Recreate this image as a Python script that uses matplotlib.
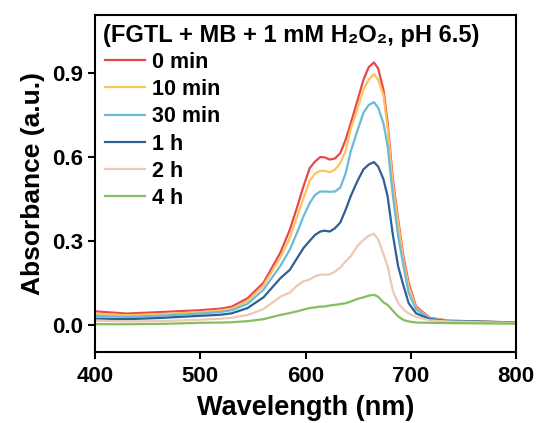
import matplotlib
matplotlib.use('Agg')
import matplotlib.pyplot as plt

# wavelength grid (nm)
wavelength = [400, 430, 460, 500, 520, 530, 545, 560, 576, 585,
              592, 598, 604, 609, 614, 618, 623, 628, 633, 638,
              643, 649, 655, 660, 665, 669, 674, 678, 683, 688,
              693, 698, 705, 718, 735, 765, 800]

abs_0min = [0.048, 0.040, 0.045, 0.052, 0.058, 0.065, 0.095, 0.150, 0.257, 0.339,
            0.420, 0.494, 0.560, 0.583, 0.599, 0.598, 0.590, 0.594, 0.613, 0.660,
            0.720, 0.797, 0.875, 0.920, 0.937, 0.915, 0.840, 0.720, 0.518, 0.375,
            0.244, 0.149, 0.065, 0.025, 0.015, 0.012, 0.008]
abs_10min = [0.040, 0.034, 0.038, 0.045, 0.052, 0.058, 0.085, 0.140, 0.240, 0.310,
             0.387, 0.452, 0.515, 0.540, 0.550, 0.550, 0.545, 0.554, 0.578, 0.620,
             0.700, 0.768, 0.840, 0.875, 0.895, 0.875, 0.820, 0.700, 0.500, 0.363,
             0.230, 0.137, 0.060, 0.023, 0.014, 0.011, 0.008]
abs_30min = [0.032, 0.028, 0.032, 0.040, 0.046, 0.052, 0.075, 0.125, 0.210, 0.268,
             0.330, 0.387, 0.435, 0.464, 0.476, 0.476, 0.475, 0.476, 0.490, 0.540,
             0.620, 0.690, 0.757, 0.785, 0.795, 0.775, 0.720, 0.637, 0.460, 0.315,
             0.210, 0.113, 0.055, 0.022, 0.014, 0.011, 0.008]
abs_1h = [0.022, 0.020, 0.024, 0.032, 0.036, 0.041, 0.060, 0.098, 0.166, 0.196,
          0.238, 0.274, 0.300, 0.321, 0.333, 0.336, 0.333, 0.345, 0.365, 0.410,
          0.460, 0.511, 0.555, 0.572, 0.581, 0.565, 0.520, 0.458, 0.320, 0.208,
          0.140, 0.077, 0.041, 0.020, 0.013, 0.011, 0.008]
abs_2h = [0.015, 0.012, 0.013, 0.018, 0.022, 0.025, 0.035, 0.056, 0.100, 0.115,
          0.140, 0.155, 0.162, 0.173, 0.179, 0.179, 0.180, 0.190, 0.204, 0.226,
          0.245, 0.280, 0.303, 0.318, 0.325, 0.305, 0.253, 0.208, 0.120, 0.077,
          0.055, 0.040, 0.028, 0.016, 0.012, 0.009, 0.007]
abs_4h = [0.002, 0.002, 0.003, 0.007, 0.008, 0.009, 0.013, 0.020, 0.035, 0.042,
          0.048, 0.054, 0.060, 0.062, 0.065, 0.065, 0.069, 0.071, 0.074, 0.077,
          0.083, 0.092, 0.098, 0.104, 0.107, 0.100, 0.080, 0.071, 0.050, 0.030,
          0.017, 0.012, 0.008, 0.007, 0.006, 0.005, 0.004]

labels = ['0 min', '10 min', '30 min', '1 h', '2 h', '4 h']
series = [abs_0min, abs_10min, abs_30min, abs_1h, abs_2h, abs_4h]
colors = ['#e8484c', '#fdc35c', '#6bbad8', '#2f5f95', '#eec8b5', '#84bf5e']

plt.rcParams['font.family'] = ['Liberation Sans', 'DejaVu Sans']
plt.rcParams['font.weight'] = 'bold'

fig = plt.figure(figsize=(5.37, 4.23), dpi=100)
ax = fig.add_axes([0.177, 0.168, 0.784, 0.797])

for vals, lab, c in zip(series, labels, colors):
    ax.plot(wavelength, vals, color=c, lw=1.6, label=lab)

ax.set_xlim(400, 800)
ax.set_ylim(-0.097, 1.107)
ax.set_xticks([400, 500, 600, 700, 800])
ax.set_yticks([0.0, 0.3, 0.6, 0.9])
ax.set_yticklabels(['0.0', '0.3', '0.6', '0.9'])
ax.tick_params(direction='out', length=5, width=1.5, labelsize=16, pad=3.5)
ax.tick_params(axis='x', pad=5)
for s in ax.spines.values():
    s.set_linewidth(1.5)

ax.set_xlabel('Wavelength (nm)', fontsize=19.5, fontweight='bold', labelpad=6)
ax.set_ylabel('Absorbance (a.u.)', fontsize=19, fontweight='bold', labelpad=5)

ax.text(0.019, 0.94, '(FGTL + MB + 1 mM H\u2082O\u2082, pH 6.5)', transform=ax.transAxes,
        fontsize=17, fontweight='bold', va='center', ha='left')

ax.legend(loc='upper left', bbox_to_anchor=(-0.012, 0.935), frameon=False,
          prop={'size': 15.5, 'weight': 'bold'}, handlelength=1.85,
          handletextpad=0.35, labelspacing=0.29, borderaxespad=0.3)

fig.savefig('out.png', dpi=100)
